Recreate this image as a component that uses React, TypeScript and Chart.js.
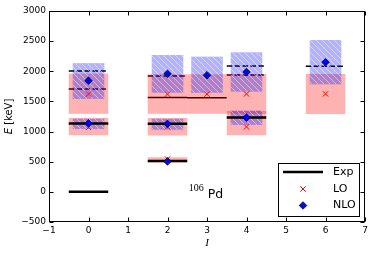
import { useEffect, useRef } from 'react';
import { Chart, registerables } from 'chart.js';

Chart.register(...registerables);

// ---- axis ranges / ticks ----
const xRange = [-1, 7];
const yRange = [-500, 3000];
const xStep = 1;
const yStep = 500;

// ---- experimental levels (spin, energy keV, line kind) ----
const expSpin = [0, 0, 0, 0, 2, 2, 2, 2, 3, 4, 4, 4, 6];
const expEnergy = [0, 1134, 1706, 2005, 512, 1128, 1565, 1920, 1560, 1232, 1940, 2086, 2082];
const expKind = ['thick', 'thick', 'dash', 'dash', 'thick', 'thick', 'thin', 'dash', 'thin', 'thick', 'dash', 'dash', 'dash'];

// ---- LO results with ranges ----
const loSpin = [0, 0, 2, 2, 2, 3, 4, 4, 6];
const loEnergy = [1070, 1622, 545, 1078, 1620, 1620, 1078, 1625, 1625];
const loLow = [940, 1295, 488, 935, 1295, 1295, 940, 1295, 1290];
const loHigh = [1228, 1962, 574, 1226, 1950, 1950, 1342, 1955, 1955];

// ---- NLO results with ranges ----
const nloSpin = [0, 0, 2, 2, 2, 3, 4, 4, 6];
const nloEnergy = [1138, 1845, 505, 1128, 1958, 1934, 1232, 1988, 2150];
const nloLow = [1043, 1541, null, 1030, 1645, 1645, 1110, 1662, 1784];
const nloHigh = [1212, 2135, null, 1212, 2270, 2243, 1347, 2315, 2519];

const legendNames = ['Exp', 'LO', 'NLO'];

const LO_HALF = 0.5;
const NLO_HALF = 0.4;

function expSegments(kind: string) {
  const pts: any[] = [];
  expSpin.forEach((s, i) => {
    if (expKind[i] !== kind) return;
    pts.push({ x: s - 0.5, y: expEnergy[i] }, { x: s + 0.5, y: expEnergy[i] }, { x: s, y: null });
  });
  return pts;
}

function drawBoxes(chart: any) {
  const { ctx, chartArea: a, scales } = chart;
  const xs = scales.x, ys = scales.y;
  ctx.save();
  ctx.beginPath();
  ctx.rect(a.left, a.top, a.right - a.left, a.bottom - a.top);
  ctx.clip();
  // LO boxes
  ctx.fillStyle = 'rgba(255,0,0,0.3)';
  loSpin.forEach((s, i) => {
    const l = xs.getPixelForValue(s - LO_HALF);
    const r = xs.getPixelForValue(s + LO_HALF);
    const t = ys.getPixelForValue(loHigh[i]);
    const b = ys.getPixelForValue(loLow[i]);
    ctx.fillRect(l, t, r - l, b - t);
  });
  // NLO boxes with hatching
  nloSpin.forEach((s, i) => {
    if (nloLow[i] == null || nloHigh[i] == null) return;
    const l = xs.getPixelForValue(s - NLO_HALF);
    const r = xs.getPixelForValue(s + NLO_HALF);
    const t = ys.getPixelForValue(nloHigh[i] as number);
    const b = ys.getPixelForValue(nloLow[i] as number);
    ctx.fillStyle = 'rgba(0,0,255,0.3)';
    ctx.fillRect(l, t, r - l, b - t);
    ctx.save();
    ctx.beginPath();
    ctx.rect(l, t, r - l, b - t);
    ctx.clip();
    ctx.strokeStyle = 'rgba(255,255,255,0.45)';
    ctx.lineWidth = 1;
    const step = 6;
    const c0 = Math.floor((l - b) / step) * step;
    ctx.beginPath();
    for (let c = c0; c <= r - t + step; c += step) {
      ctx.moveTo(c + t, t);
      ctx.lineTo(c + b, b);
    }
    ctx.stroke();
    ctx.restore();
  });
  ctx.restore();
}

function drawDiamond(ctx: CanvasRenderingContext2D, x: number, y: number, r: number) {
  ctx.beginPath();
  ctx.moveTo(x - r, y);
  ctx.lineTo(x, y - r);
  ctx.lineTo(x + r, y);
  ctx.lineTo(x, y + r);
  ctx.closePath();
  ctx.fillStyle = '#0000ff';
  ctx.fill();
  ctx.strokeStyle = '#000';
  ctx.lineWidth = 0.7;
  ctx.stroke();
}

function drawCross(ctx: CanvasRenderingContext2D, x: number, y: number, r: number) {
  const d = r * Math.SQRT1_2;
  ctx.beginPath();
  ctx.moveTo(x - d, y - d);
  ctx.lineTo(x + d, y + d);
  ctx.moveTo(x - d, y + d);
  ctx.lineTo(x + d, y - d);
  ctx.strokeStyle = '#ff0000';
  ctx.lineWidth = 1;
  ctx.stroke();
}

const customPlugin = {
  id: 'customDraw',
  afterDatasetDraw(chart: any, args: any) {
    if (args.index === 3) drawBoxes(chart);
  },
  afterDraw(chart: any) {
    const { ctx, chartArea: a, scales } = chart;
    const xs = scales.x, ys = scales.y;
    ctx.save();
    // frame
    ctx.strokeStyle = '#000';
    ctx.lineWidth = 1;
    const L = Math.round(a.left) + 0.5, R = Math.round(a.right) - 0.5;
    const T = Math.round(a.top) + 0.5, B = Math.round(a.bottom) - 0.5;
    ctx.strokeRect(L, T, R - L, B - T);
    // inward ticks
    const tl = 4;
    ctx.beginPath();
    xs.ticks.forEach((t: any) => {
      const px = Math.round(xs.getPixelForValue(t.value)) + 0.5;
      ctx.moveTo(px, B); ctx.lineTo(px, B - tl);
      ctx.moveTo(px, T); ctx.lineTo(px, T + tl);
    });
    ys.ticks.forEach((t: any) => {
      const py = Math.round(ys.getPixelForValue(t.value)) + 0.5;
      ctx.moveTo(L, py); ctx.lineTo(L + tl, py);
      ctx.moveTo(R, py); ctx.lineTo(R - tl, py);
    });
    ctx.stroke();

    // axis titles
    ctx.fillStyle = '#000';
    ctx.textBaseline = 'middle';
    ctx.save();
    ctx.translate(9, (a.top + a.bottom) / 2);
    ctx.rotate(-Math.PI / 2);
    ctx.font = 'italic 10px "DejaVu Sans"';
    const w1 = ctx.measureText('E').width;
    ctx.font = '10px "DejaVu Sans"';
    const w2 = ctx.measureText(' [keV]').width;
    const start = -(w1 + w2) / 2;
    ctx.textAlign = 'left';
    ctx.font = 'italic 10px "DejaVu Sans"';
    ctx.fillText('E', start, 0);
    ctx.font = '10px "DejaVu Sans"';
    ctx.fillText(' [keV]', start + w1, 0);
    ctx.restore();

    ctx.textAlign = 'center';
    ctx.font = 'italic 11px "Liberation Serif"';
    ctx.fillText('I', (a.left + a.right) / 2, 243);

    // nucleus label
    ctx.textAlign = 'left';
    ctx.textBaseline = 'alphabetic';
    const pdX = xs.getPixelForValue(3.02);
    const pdY = ys.getPixelForValue(-100);
    ctx.font = '12.5px "DejaVu Sans"';
    ctx.fillText('Pd', pdX, pdY);
    ctx.font = '10px "Liberation Serif"';
    const sw = ctx.measureText('106').width;
    ctx.fillText('106', pdX - sw - 4, pdY - 7);

    // legend
    const lw = 81, lh = 53;
    const lx = Math.round(a.right) - 6 - lw;
    const ly = Math.round(a.bottom) - 6 - lh;
    ctx.fillStyle = '#fff';
    ctx.fillRect(lx, ly, lw, lh);
    ctx.strokeStyle = '#000';
    ctx.lineWidth = 1;
    ctx.strokeRect(lx + 0.5, ly + 0.5, lw, lh);
    const rows = [ly + 9, ly + 26, ly + 42.5];
    const mx = lx + 25;
    ctx.beginPath();
    ctx.moveTo(lx + 5, rows[0]);
    ctx.lineTo(lx + 45, rows[0]);
    ctx.lineWidth = 2.5;
    ctx.strokeStyle = '#000';
    ctx.stroke();
    drawCross(ctx, mx, rows[1], 3.8);
    drawDiamond(ctx, mx, rows[2], 3.8);
    ctx.fillStyle = '#000';
    ctx.font = '11px "DejaVu Sans"';
    ctx.textBaseline = 'middle';
    ctx.textAlign = 'left';
    legendNames.forEach((n, i) => ctx.fillText(n, lx + 55, rows[i]));
    ctx.restore();
  },
};

export default function App() {
  const ref = useRef<HTMLCanvasElement>(null);
  useEffect(() => {
    Chart.defaults.font.family = '"DejaVu Sans"';
    const chart = new Chart(ref.current as HTMLCanvasElement, {
      type: 'line',
      data: {
        datasets: [
          {
            label: 'NLO',
            data: nloSpin.map((s, i) => ({ x: s, y: nloEnergy[i] })),
            showLine: false,
            pointStyle: 'rectRot',
            pointRadius: 3.8,
            pointBackgroundColor: '#0000ff',
            pointBorderColor: '#000',
            pointBorderWidth: 0.7,
          },
          {
            label: 'LO',
            data: loSpin.map((s, i) => ({ x: s, y: loEnergy[i] })),
            showLine: false,
            pointStyle: 'crossRot',
            pointRadius: 3.8,
            pointBorderColor: '#ff0000',
            pointBorderWidth: 1,
          },
          {
            label: 'Exp',
            data: expSegments('thick'),
            borderColor: '#000',
            borderWidth: 2.5,
            pointRadius: 0,
            spanGaps: false,
          },
          {
            label: 'Exp dashed',
            data: expSegments('dash'),
            borderColor: '#000',
            borderWidth: 1.5,
            borderDash: [5.5, 2.4],
            pointRadius: 0,
            spanGaps: false,
          },
          {
            label: 'Exp thin',
            data: expSegments('thin'),
            borderColor: '#000',
            borderWidth: 1.5,
            pointRadius: 0,
            spanGaps: false,
          },
        ],
      } as any,
      options: {
        animation: false,
        responsive: false,
        events: [],
        layout: { padding: { top: 11, right: 9, left: 0, bottom: 0 } },
        plugins: { legend: { display: false }, tooltip: { enabled: false } },
        scales: {
          x: {
            type: 'linear',
            min: xRange[0],
            max: xRange[1],
            grid: { display: false, drawTicks: false },
            border: { display: false },
            ticks: {
              stepSize: xStep,
              padding: 3,
              color: '#000',
              font: { size: 9, family: '"DejaVu Sans"' },
              maxRotation: 0,
              callback: (v: any) => String(v).replace('-', '\u2212'),
            },
            afterFit: (s: any) => { s.height = 34; },
          },
          y: {
            type: 'linear',
            min: yRange[0],
            max: yRange[1],
            grid: { display: false, drawTicks: false },
            border: { display: false },
            ticks: {
              stepSize: yStep,
              padding: 3,
              color: '#000',
              font: { size: 9, family: '"DejaVu Sans"' },
              callback: (v: any) => String(v).replace('-', '\u2212'),
            },
            afterFit: (s: any) => { s.width = 49; },
          },
        },
      } as any,
      plugins: [customPlugin],
    });
    return () => chart.destroy();
  }, []);
  return (
    <canvas
      ref={ref}
      width={374}
      height={256}
      style={{ position: 'absolute', left: 0, top: 0, width: 374, height: 256, display: 'block' }}
    />
  );
}
